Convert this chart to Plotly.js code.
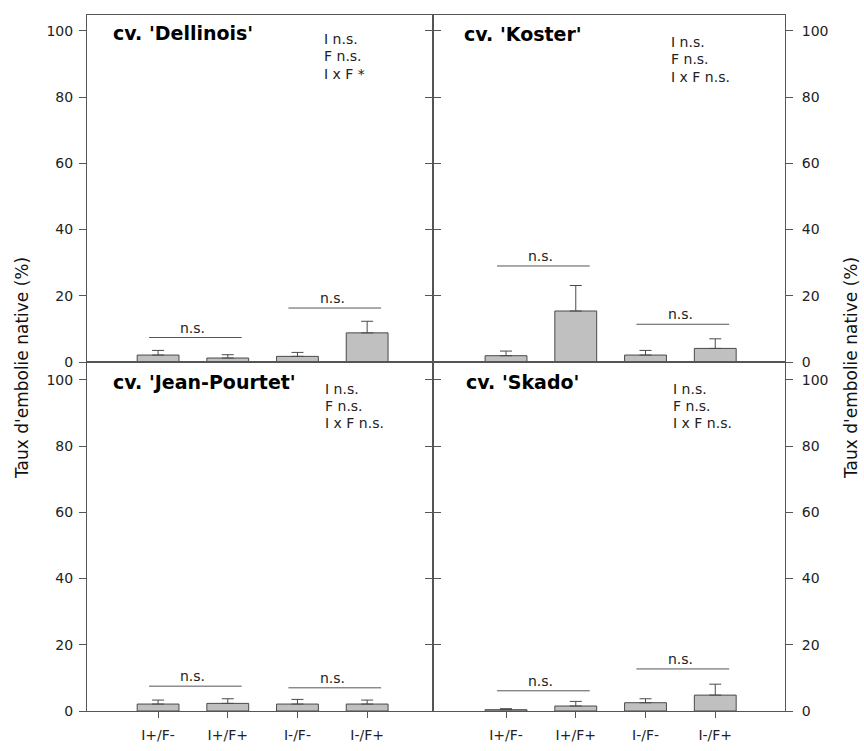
<!DOCTYPE html>
<html>
<head>
<meta charset="utf-8">
<script src="https://cdn.plot.ly/plotly-3.0.1.min.js"></script>
<style>html,body{margin:0;padding:0;background:#fff;}#chart{width:864px;height:751px;}</style>
</head>
<body>
<div id="chart"></div>
<script>
// ---- data ----
var categories = ["I+/F-", "I+/F+", "I-/F-", "I-/F+"];
var cultivars = ["cv. 'Dellinois'", "cv. 'Koster'", "cv. 'Jean-Pourtet'", "cv. 'Skado'"];

var dellinoisMean = [2.1, 1.2, 1.7, 8.8];
var dellinoisErr  = [1.4, 1.0, 1.2, 3.5];
var kosterMean    = [1.9, 15.4, 2.1, 4.1];
var kosterErr     = [1.4, 7.7, 1.4, 2.9];
var jeanMean      = [2.1, 2.3, 2.1, 2.1];
var jeanErr       = [1.2, 1.4, 1.4, 1.2];
var skadoMean     = [0.4, 1.5, 2.5, 4.8];
var skadoErr      = [0.3, 1.4, 1.2, 3.3];

// significance bracket heights (pair I+ , pair I-)
var dellinoisSigY = [7.4, 16.3];
var kosterSigY    = [29.0, 11.4];
var jeanSigY      = [7.5, 7.0];
var skadoSigY     = [6.1, 12.7];
var sigLabel = "n.s.";

var dellinoisStats = ["I n.s.", "F n.s.", "I x F *"];
var kosterStats    = ["I n.s.", "F n.s.", "I x F n.s."];
var jeanStats      = ["I n.s.", "F n.s.", "I x F n.s."];
var skadoStats     = ["I n.s.", "F n.s.", "I x F n.s."];

var yTitle = "Taux d'embolie native (%)";

// ---- layout helpers ----
var W = 864, H = 751;
var FONT = "DejaVu Sans, Arial, sans-serif";
var AX = "#555";
var pos = [1, 2, 3, 4];
function px(x){ return x / W; }
function py(y){ return 1 - y / H; }

var panels = [
  {mean: dellinoisMean, err: dellinoisErr, sig: dellinoisSigY, stats: dellinoisStats, name: cultivars[0], xa: "x",  ya: "y",
   titleX: 111, titleY: 33, statX: 322, statY: [39, 56.5, 74]},
  {mean: kosterMean, err: kosterErr, sig: kosterSigY, stats: kosterStats, name: cultivars[1], xa: "x2", ya: "y2",
   titleX: 462, titleY: 34, statX: 669, statY: [42, 59.5, 77]},
  {mean: jeanMean, err: jeanErr, sig: jeanSigY, stats: jeanStats, name: cultivars[2], xa: "x3", ya: "y3",
   titleX: 111, titleY: 382, statX: 323, statY: [389, 406, 423]},
  {mean: skadoMean, err: skadoErr, sig: skadoSigY, stats: skadoStats, name: cultivars[3], xa: "x4", ya: "y4",
   titleX: 464, titleY: 382, statX: 671, statY: [389, 406, 423]}
];

var traces = [];
var annotations = [];
panels.forEach(function(p){
  traces.push({
    type: "bar", x: pos, y: p.mean, xaxis: p.xa, yaxis: p.ya, width: 0.6,
    marker: {color: "#c0c0c0", line: {color: "#4a4a4a", width: 1}},
    error_y: {type: "data", symmetric: false, array: p.err, arrayminus: p.err.map(function(){return 0;}),
              color: "#4a4a4a", thickness: 1, width: 6},
    hoverinfo: "skip", showlegend: false
  });
  [[0,1],[2,3]].forEach(function(pair, k){
    var x0 = pos[pair[0]] - 0.13, x1 = pos[pair[1]] + 0.2;
    traces.push({
      type: "scatter", mode: "lines", x: [x0, x1], y: [p.sig[k], p.sig[k]],
      xaxis: p.xa, yaxis: p.ya, line: {color: "#555", width: 1},
      hoverinfo: "skip", showlegend: false
    });
    annotations.push({
      xref: p.xa, yref: p.ya, x: (pos[pair[0]] + pos[pair[1]]) / 2, y: p.sig[k],
      text: sigLabel, showarrow: false, xanchor: "center", yanchor: "bottom",
      font: {family: FONT, size: 14, color: "#222"}
    });
  });
  annotations.push({
    xref: "paper", yref: "paper", x: px(p.titleX), y: py(p.titleY), text: "<b>" + p.name + "</b>",
    showarrow: false, xanchor: "left", yanchor: "middle",
    font: {family: FONT, size: 19, color: "#000"}
  });
  p.stats.forEach(function(s, i){
    annotations.push({
      xref: "paper", yref: "paper", x: px(p.statX), y: py(p.statY[i]), text: s,
      showarrow: false, xanchor: "left", yanchor: "middle",
      font: {family: FONT, size: 14, color: "#222"}
    });
  });
});

annotations.push({xref: "paper", yref: "paper", x: px(22), y: py(368), text: yTitle, textangle: -90,
  showarrow: false, xanchor: "center", yanchor: "middle", font: {family: FONT, size: 17, color: "#111"}});
annotations.push({xref: "paper", yref: "paper", x: px(851), y: py(368), text: yTitle, textangle: -90,
  showarrow: false, xanchor: "center", yanchor: "middle", font: {family: FONT, size: 17, color: "#111"}});

var xL = [px(87), px(433)], xR = [px(433), px(785)];
var yT = [py(362), py(15)], yB = [py(711), py(362)];
var tickFont = {family: FONT, size: 14, color: "#222"};

function xaxis(dom, anchor, range, labels){
  return {
    domain: dom, anchor: anchor, range: range, showgrid: false, zeroline: false,
    showline: true, linecolor: AX, linewidth: 1, mirror: true,
    tickmode: "array", tickvals: pos, ticktext: categories,
    ticks: labels ? "outside" : "", ticklen: 6, tickcolor: AX,
    showticklabels: labels, tickfont: tickFont, ticklabelstandoff: 5, fixedrange: true
  };
}
function yaxis(dom, anchor, range, side){
  return {
    domain: dom, anchor: anchor, range: range, side: side, showgrid: false, zeroline: false,
    showline: true, linecolor: AX, linewidth: 1, mirror: "ticks",
    tickmode: "array", tickvals: [0, 20, 40, 60, 80, 100],
    ticks: "outside", ticklen: 7, tickcolor: AX, tickfont: tickFont,
    ticklabelstandoff: side === "left" ? 3 : 6, fixedrange: true
  };
}

var layout = {
  width: W, height: H, margin: {l: 0, r: 0, t: 0, b: 0},
  paper_bgcolor: "#fff", plot_bgcolor: "rgba(0,0,0,0)",
  showlegend: false, bargap: 0,
  xaxis:  xaxis(xL, "y",  [-0.02, 4.945], false),
  xaxis2: xaxis(xR, "y2", [-0.047, 5.0], false),
  xaxis3: xaxis(xL, "y3", [-0.02, 4.945], true),
  xaxis4: xaxis(xR, "y4", [-0.047, 5.0], true),
  yaxis:  yaxis(yT, "x",  [0, 104.8], "left"),
  yaxis2: yaxis(yT, "x2", [0, 104.8], "right"),
  yaxis3: yaxis(yB, "x3", [0, 105.4], "left"),
  yaxis4: yaxis(yB, "x4", [0, 105.4], "right"),
  annotations: annotations
};

Plotly.newPlot("chart", traces, layout, {displayModeBar: false, staticPlot: true});
</script>
</body>
</html>
